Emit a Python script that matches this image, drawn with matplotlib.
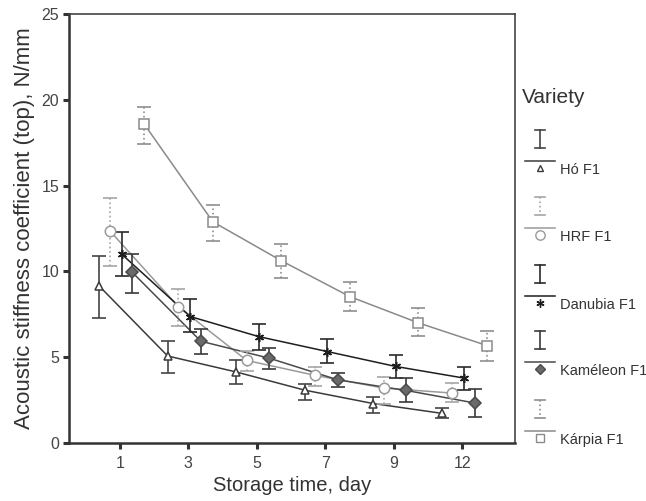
import numpy as np
import matplotlib
matplotlib.use("Agg")
import matplotlib.pyplot as plt

plt.rcParams['font.family'] = ['Liberation Sans', 'DejaVu Sans']

days = ["1", "3", "5", "7", "9", "12"]
varieties = ["Hó F1", "HRF F1", "Danubia F1", "Kaméleon F1", "Kárpia F1"]

ho_mean = [9.15, 5.07, 4.14, 3.08, 2.30, 1.73]
ho_hi = [10.9, 5.94, 4.84, 3.45, 2.68, 2.05]
ho_lo = [7.3, 4.07, 3.43, 2.5, 1.75, 1.44]

hrf_mean = [12.37, 7.95, 4.81, 3.94, 3.20, 2.91]
hrf_hi = [14.27, 8.98, 5.39, 4.42, 3.84, 3.47]
hrf_lo = [10.33, 6.84, 4.2, 3.3, 2.3, 2.38]

dan_mean = [11.0, 7.37, 6.2, 5.33, 4.46, 3.78]
dan_hi = [12.3, 8.4, 6.94, 6.07, 5.14, 4.42]
dan_lo = [9.75, 6.45, 5.43, 4.65, 3.8, 3.1]

kam_mean = [9.94, 5.93, 4.94, 3.68, 3.06, 2.33]
kam_hi = [11.0, 6.65, 5.52, 4.07, 3.78, 3.16]
kam_lo = [8.74, 5.2, 4.32, 3.26, 2.38, 1.51]

kar_mean = [18.57, 12.89, 10.62, 8.53, 7.0, 5.68]
kar_hi = [19.6, 13.88, 11.59, 9.36, 7.85, 6.55]
kar_lo = [17.44, 11.78, 9.59, 7.67, 6.26, 4.75]

means = [ho_mean, hrf_mean, dan_mean, kam_mean, kar_mean]
his = [ho_hi, hrf_hi, dan_hi, kam_hi, kar_hi]
los = [ho_lo, hrf_lo, dan_lo, kam_lo, kar_lo]

offsets = [-0.30, -0.145, 0.03, 0.185, 0.36]
markers = ['^', 'o', (6, 2, 0), 'D', 's']
msizes = [5.5, 7.5, 6.5, 6, 6.5]
line_colors = ['#3a3a3a', '#9a9a9a', '#1e1e1e', '#4a4a4a', '#8a8a8a']
err_colors = ['#444444', '#a5a5a5', '#2a2a2a', '#3a3a3a', '#8f8f8f']
err_styles = ['-', ':', '-', '-', ':']
face_colors = ['none', 'none', '#1e1e1e', '#6a6a6a', 'none']

W, H = 646, 501
fig = plt.figure(figsize=(W / 100, H / 100), dpi=100)
ax = fig.add_axes([69 / W, 1 - 443 / H, (515 - 69) / W, (443 - 14) / H])

x = np.arange(len(days))
for i in range(len(varieties)):
    xs = x + offsets[i]
    m = np.array(means[i])
    hi = np.array(his[i])
    lo = np.array(los[i])
    ax.plot(xs, m, color=line_colors[i], lw=1.1, zorder=2)
    eb = ax.errorbar(xs, m, yerr=[m - lo, hi - m], fmt='none', ecolor=err_colors[i],
                     elinewidth=1.2, capsize=4.8, capthick=1.2, zorder=3)
    for coll in eb[2]:
        coll.set_linestyle(err_styles[i])
    ax.plot(xs, m, linestyle='none', marker=markers[i], ms=msizes[i],
            mfc=face_colors[i] if face_colors[i] != 'none' else 'white',
            mec=line_colors[i], mew=1.1, zorder=4)

ax.set_xlim(-0.74, 5.77)
ax.set_ylim(0, 25)
ax.set_xticks(x)
ax.set_xticklabels(days)
ax.set_yticks([0, 5, 10, 15, 20, 25])
ax.tick_params(axis='both', direction='out', length=4, width=2.2, colors='#333333',
               labelsize=11.5, labelcolor='#444444')
ax.tick_params(axis='y', pad=3)
ax.tick_params(axis='x', pad=5)
for s in ['left', 'bottom']:
    ax.spines[s].set_linewidth(1.8)
    ax.spines[s].set_color('#333333')
for s in ['top', 'right']:
    ax.spines[s].set_linewidth(1.2)
    ax.spines[s].set_color('#444444')
ax.set_xlabel("Storage time, day", fontsize=14.5, color='#333333', labelpad=4)
ax.set_ylabel("Acoustic stiffness coefficient (top), N/mm", fontsize=16,
              color='#333333', labelpad=5)

# Legend panel (pixel coordinates)
lax = fig.add_axes([0, 0, 1, 1], facecolor='none')
lax.set_xlim(0, W)
lax.set_ylim(H, 0)
lax.axis('off')
lax.text(522, 97, "Variety", fontsize=15, color='#333333', va='center', ha='left')
label_y = [170, 237, 305, 371, 440]
for i, name in enumerate(varieties):
    ly = label_y[i]
    ey = ly - 31
    lax.plot([540, 540], [ey - 9, ey + 9], color=err_colors[i], lw=1.2, ls=err_styles[i])
    lax.plot([535, 545], [ey - 9, ey - 9], color=err_colors[i], lw=1.2)
    lax.plot([535, 545], [ey + 9, ey + 9], color=err_colors[i], lw=1.2)
    lax.plot([525, 555], [ly - 9, ly - 9], color=line_colors[i], lw=1.1)
    lax.plot([540], [ly - 2], marker=markers[i], ms=msizes[i] * 0.9,
             mfc=face_colors[i] if face_colors[i] != 'none' else 'white',
             mec=line_colors[i], mew=1.0, linestyle='none')
    lax.text(560, ly, name, fontsize=10.5, color='#333333', va='center', ha='left')

fig.savefig("out.png", dpi=100, facecolor='white')
